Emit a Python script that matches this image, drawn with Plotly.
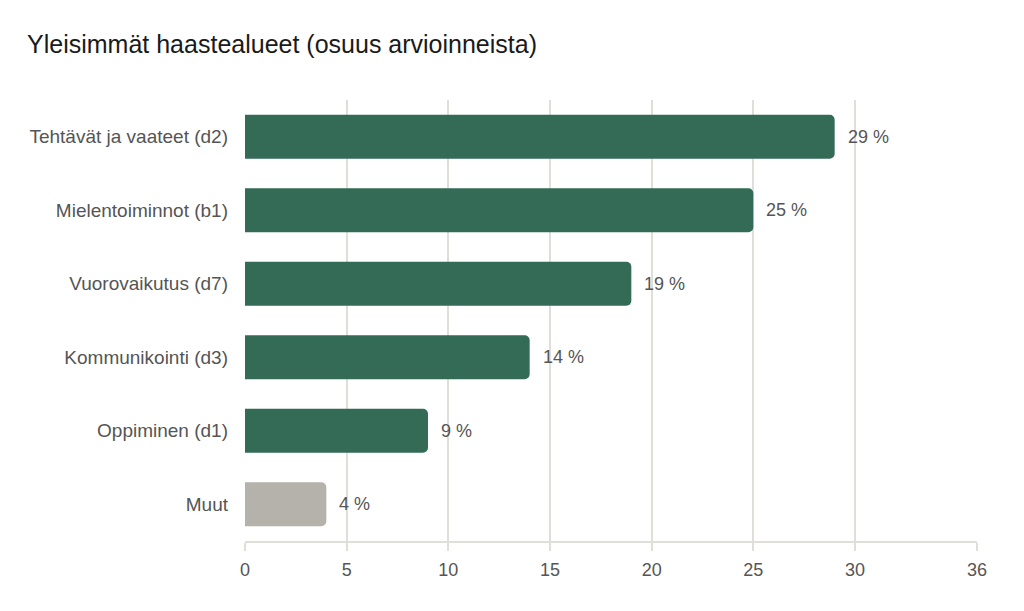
import plotly.graph_objects as go

categories = ['Tehtävät ja vaateet (d2)', 'Mielentoiminnot (b1)', 'Vuorovaikutus (d7)',
              'Kommunikointi (d3)', 'Oppiminen (d1)', 'Muut']
shares = [29, 25, 19, 14, 9, 4]
bar_colors = ['#336b57', '#336b57', '#336b57', '#336b57', '#336b57', '#b5b2ab']
tick_vals = [0, 5, 10, 15, 20, 25, 30, 36]

font_family = 'Liberation Sans, Arial, sans-serif'

fig = go.Figure()
fig.add_trace(go.Bar(x=shares, y=categories, orientation='h',
                     marker=dict(color=bar_colors, line=dict(width=0), cornerradius=5),
                     hoverinfo='skip'))

# value labels to the right of each bar
for cat, val in zip(categories, shares):
    fig.add_annotation(x=val, y=cat, text=f'{val} %', showarrow=False,
                       xanchor='left', xshift=11,
                       font=dict(family=font_family, size=18, color='#555555'))

# page body adds 8px, so margins are set 8px less on top/left
fig.update_layout(
    width=1024, height=611,
    margin=dict(l=237, r=55, t=92, b=78),
    paper_bgcolor='white', plot_bgcolor='white',
    bargap=0.4,
    showlegend=False,
    title=dict(text='Yleisimmät haastealueet (osuus arvioinneista)', x=0.0186, xanchor='left',
               y=0.94, yanchor='middle',
               font=dict(family=font_family, size=25, color='#1a1a1a')),
    font=dict(family=font_family, size=18, color='#555555'),
)
fig.update_xaxes(range=[0, 36], tickvals=tick_vals, showgrid=True, gridcolor='#e0ded8', gridwidth=1.5,
                 zeroline=False, showline=True, linecolor='#e0ded8', linewidth=1.5,
                 ticks='outside', ticklen=8, tickcolor='#e0ded8', tickwidth=1.5,
                 ticklabelstandoff=4, tickfont=dict(size=18, color='#555555'), mirror=False)
fig.update_yaxes(autorange='reversed', showgrid=False, showline=False, ticks='',
                 ticklabelstandoff=16, tickfont=dict(size=19, color='#555555'))

fig.write_html('out.html')
